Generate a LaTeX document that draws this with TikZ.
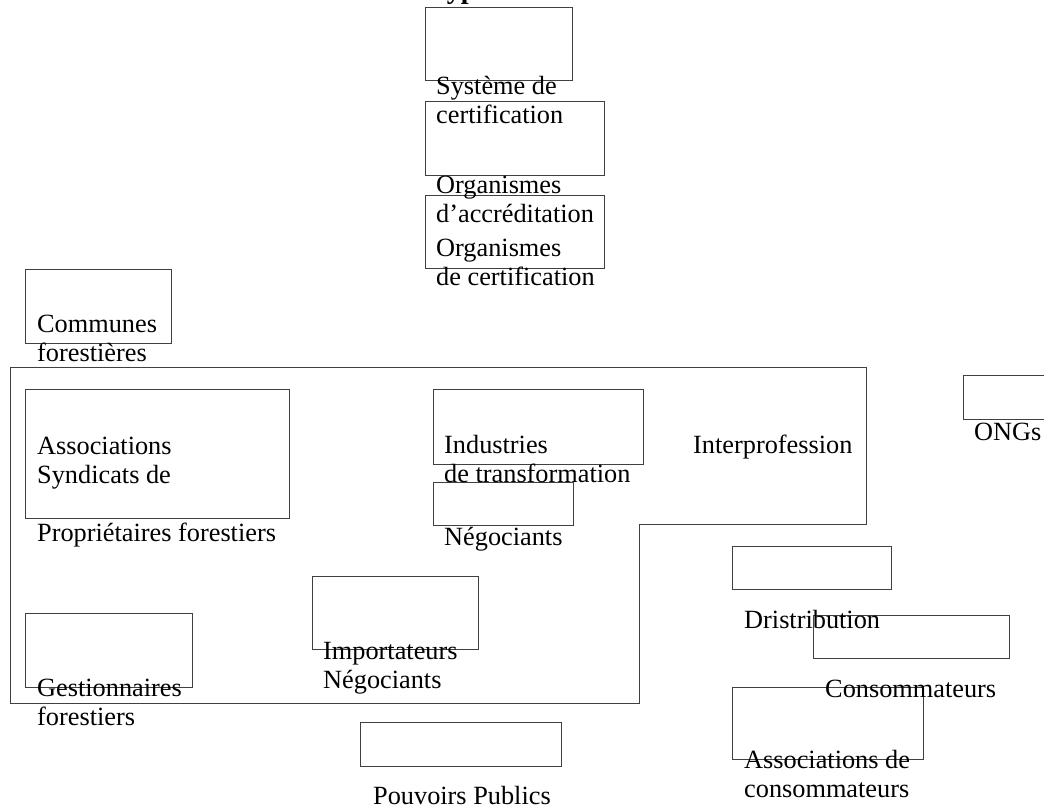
\documentclass[tikz,border=0pt]{standalone}
\usepackage{fontspec}
\setmainfont{Liberation Serif}
\tikzset{
  box/.style={draw=black!75, line width=0.9pt, rectangle, inner sep=0pt, anchor=north west},
  lbl/.style={anchor=base west, inner sep=0pt, align=left, font=\fontsize{26.3}{29}\selectfont},
}
\begin{document}
\begin{tikzpicture}[x=1pt,y=-1pt]
	\useasboundingbox[fill=white] (0,0) rectangle (1044,808);
	\node[anchor=base west, inner sep=0pt, font=\fontsize{28}{32}\selectfont\bfseries] (titre) at (430,-1) {Types d’acteurs}; % cut off at the top
	\draw[black!75, line width=0.9pt] (10,367) -- (866,367) -- (866,524) -- (639,524) -- (639,703) -- (10,703) -- cycle; % interprofession
	% certification
	\node[box, minimum width=147pt, minimum height=73pt] (sys) at (425,7) {};
	\node[box, minimum width=179pt, minimum height=74pt] (accr) at (425,101) {};
	\node[box, minimum width=179pt, minimum height=73pt] (cert) at (425,195) {};
	\node[lbl] (syslbl) at (436,123) {Système de\\certification};
	\node[lbl] (accrlbl) at (436,222) {Organismes\\d’accréditation};
	\node[lbl] (certlbl) at (436,285) {Organismes\\de certification};
	% filiere
	\node[box, minimum width=146pt, minimum height=74pt] (comm) at (25,269) {};
	\node[box, minimum width=264pt, minimum height=129pt] (assoc) at (25,389) {};
	\node[box, minimum width=210pt, minimum height=75pt] (indus) at (433,389) {};
	\node[box, minimum width=140pt, minimum height=43pt] (nego) at (433,482) {};
	\node[box, minimum width=167pt, minimum height=74pt] (gest) at (25,613) {};
	\node[box, minimum width=166pt, minimum height=73pt] (impo) at (312,576) {};
	\node[lbl] (commlbl) at (37,361) {Communes\\forestières};
	\node[lbl] (interlbl) at (693,453) {Interprofession};
	\node[lbl] (assoclbl) at (37,483) {Associations\\Syndicats de};
	\node[lbl] (proplbl) at (37,541) {Propriétaires forestiers};
	\node[lbl] (induslbl) at (444,482) {Industries\\de transformation};
	\node[lbl] (negolbl) at (444,545) {Négociants};
	\node[lbl] (gestlbl) at (37,725) {Gestionnaires\\forestiers};
	\node[lbl] (impolbl) at (323,688) {Importateurs\\Négociants};
	% autres acteurs
	\node[box, minimum width=90pt, minimum height=44pt] (ong) at (963,375) {};
	\node[box, minimum width=159pt, minimum height=43pt] (dist) at (732,546) {};
	\node[box, minimum width=196pt, minimum height=43pt] (conso) at (813,615) {};
	\node[box, minimum width=191pt, minimum height=72pt] (aconso) at (732,687) {};
	\node[box, minimum width=201pt, minimum height=44pt] (pouv) at (360,722) {};
	\node[lbl] (onglbl) at (974,440) {ONGs};
	\node[lbl] (distlbl) at (744,628) {Dristribution};
	\node[lbl] (consolbl) at (825,697) {Consommateurs};
	\node[lbl] (aconsolbl) at (744,797) {Associations de\\consommateurs};
	\node[lbl] (pouvlbl) at (373,804) {Pouvoirs Publics};
\end{tikzpicture}
\end{document}
